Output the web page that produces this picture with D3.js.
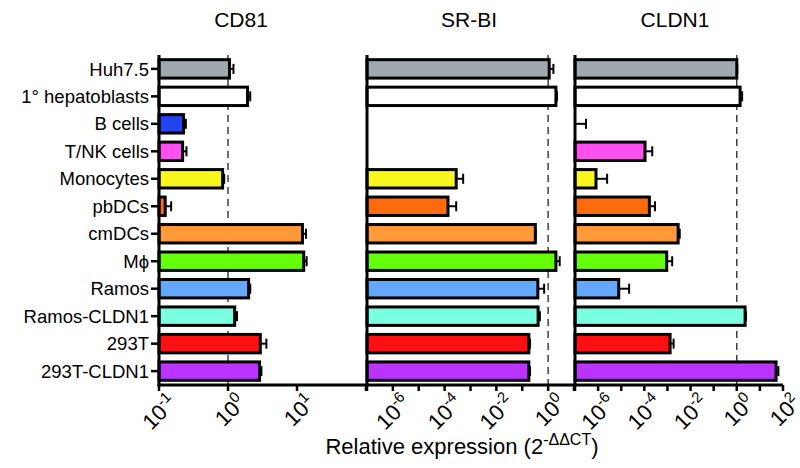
<!DOCTYPE html>
<html><head><meta charset="utf-8">
<script src="https://cdn.jsdelivr.net/npm/d3@7"></script>
<style>body{margin:0;background:#fff}svg{font-family:"Liberation Sans",Arial,sans-serif}</style>
</head><body><svg id="c" width="800" height="468"></svg>
<script>
const categories = ["Huh7.5","1° hepatoblasts","B cells","T/NK cells","Monocytes","pbDCs","cmDCs","Mϕ","Ramos","Ramos-CLDN1","293T","293T-CLDN1"];
const colors = ["#a0aaab","#ffffff","#2343f0","#ff4ff0","#f7f71e","#ff6a0a","#ff993a","#66ff0a","#62a8ff","#7affe0","#ff1010","#bb33ff"];
const panelTitles = ["CD81","SR-BI","CLDN1"];
const cd81     = [1.05, 1.92, 0.227, 0.22, 0.836, 0.123, 12.0, 12.5, 1.99, 1.25, 2.94, 2.87];
const cd81Err  = [1.20, 2.10, 0.245, 0.25, 0.88, 0.15, 13.5, 13.8, 2.10, 1.35, 3.6, 3.05];
const srbi     = [1.1, 2.0, null, null, 2.8e-4, 1.35e-4, 0.32, 2.0, 0.40, 0.41, 0.18, 0.18];
const srbiErr  = [1.6, 2.2, null, null, 5.2e-4, 2.8e-4, 0.33, 2.8, 0.70, 0.48, 0.20, 0.20];
const cldn1    = [1.0, 1.39, 1e-7, 1.07e-4, 8.1e-7, 1.65e-4, 2.9e-3, 9.3e-4, 7.8e-6, 2.29, 1.3e-3, 50];
const cldn1Err = [1.05, 1.7, 3.0e-7, 2.2e-4, 2.45e-6, 2.9e-4, 3.4e-3, 1.6e-3, 2.2e-5, 2.5, 1.85e-3, 63];
const panelDomains = [[0.1, 100], [1e-7, 10], [1e-7, 100]];
const labelExps = [[-1, 0, 1], [-6, -4, -2, 0], [-6, -4, -2, 0, 2]];
const xTitle = "Relative expression (2";
const xTitleSup = "-ΔΔCT";

const svg = d3.select("#c");
const yTop = 55, yBottom = 385;
const y = d3.scaleBand().domain(categories).range([yTop, yBottom]).paddingInner(0.33).paddingOuter(0.17);
const panelRanges = [[159, 366], [367, 574], [575, 783]];
const titleX = [241, 469, 675];
const values = [cd81, srbi, cldn1];
const errs = [cd81Err, srbiErr, cldn1Err];

categories.forEach(c => {
  const cy = y(c) + y.bandwidth() / 2;
  svg.append("text").attr("x", 149).attr("y", cy).attr("dy", "0.36em")
    .attr("text-anchor", "end").attr("font-size", 18.5).text(c);
  svg.append("line").attr("x1", 151).attr("x2", 159).attr("y1", cy).attr("y2", cy)
    .attr("stroke", "#000").attr("stroke-width", 2.5);
});

panelRanges.forEach((r, i) => {
  const x = d3.scaleLog().domain(panelDomains[i]).range(r);
  const g = svg.append("g");
  g.append("text").attr("x", titleX[i]).attr("y", 27)
    .attr("text-anchor", "middle").attr("font-size", 21).text(panelTitles[i]);
  g.append("line").attr("x1", x(1)).attr("x2", x(1)).attr("y1", yTop).attr("y2", yBottom)
    .attr("stroke", "#222").attr("stroke-width", 1.3).attr("stroke-dasharray", "7,5");
  categories.forEach((c, k) => {
    const v = values[i][k];
    if (v == null) return;
    const by = y(c), bh = y.bandwidth();
    const e = errs[i][k];
    const cy = by + bh / 2;
    g.append("line").attr("x1", x(v)).attr("x2", x(e)).attr("y1", cy).attr("y2", cy)
      .attr("stroke", "#000").attr("stroke-width", 2);
    g.append("line").attr("x1", x(e)).attr("x2", x(e)).attr("y1", cy - 5).attr("y2", cy + 5)
      .attr("stroke", "#000").attr("stroke-width", 2);
    g.append("rect").attr("x", r[0]).attr("y", by).attr("width", Math.max(0, x(v) - r[0])).attr("height", bh)
      .attr("fill", colors[k]).attr("stroke", "#000").attr("stroke-width", 3);
  });
  g.append("line").attr("x1", r[0]).attr("x2", r[0]).attr("y1", yTop).attr("y2", yBottom + 1.5)
    .attr("stroke", "#000").attr("stroke-width", 3);
  g.append("line").attr("x1", r[0] - 1.5).attr("x2", r[1]).attr("y1", yBottom).attr("y2", yBottom)
    .attr("stroke", "#000").attr("stroke-width", 3);
  const d0 = Math.round(Math.log10(panelDomains[i][0])), d1 = Math.round(Math.log10(panelDomains[i][1]));
  for (let p = d0; p <= d1; p++) {
    g.append("line").attr("x1", x(Math.pow(10, p))).attr("x2", x(Math.pow(10, p)))
      .attr("y1", yBottom).attr("y2", yBottom + 6).attr("stroke", "#000").attr("stroke-width", 2.5);
  }
  labelExps[i].forEach(p => {
    const tx = x(Math.pow(10, p));
    const t = g.append("text").attr("transform", `translate(${tx + 8},${yBottom + 8}) rotate(-45)`)
      .attr("text-anchor", "end").attr("font-size", 22).attr("dy", "0.72em");
    t.append("tspan").text("10");
    t.append("tspan").attr("font-size", 15).attr("dy", "-0.6em").text(p < 0 ? "-" + (-p) : String(p));
  });
});

const xt = svg.append("text").attr("x", 462).attr("y", 454).attr("text-anchor", "middle").attr("font-size", 22);
xt.append("tspan").text(xTitle);
xt.append("tspan").attr("font-size", 16).attr("dy", "-9").text(xTitleSup);
xt.append("tspan").attr("dy", "9").text(")");
</script></body></html>
